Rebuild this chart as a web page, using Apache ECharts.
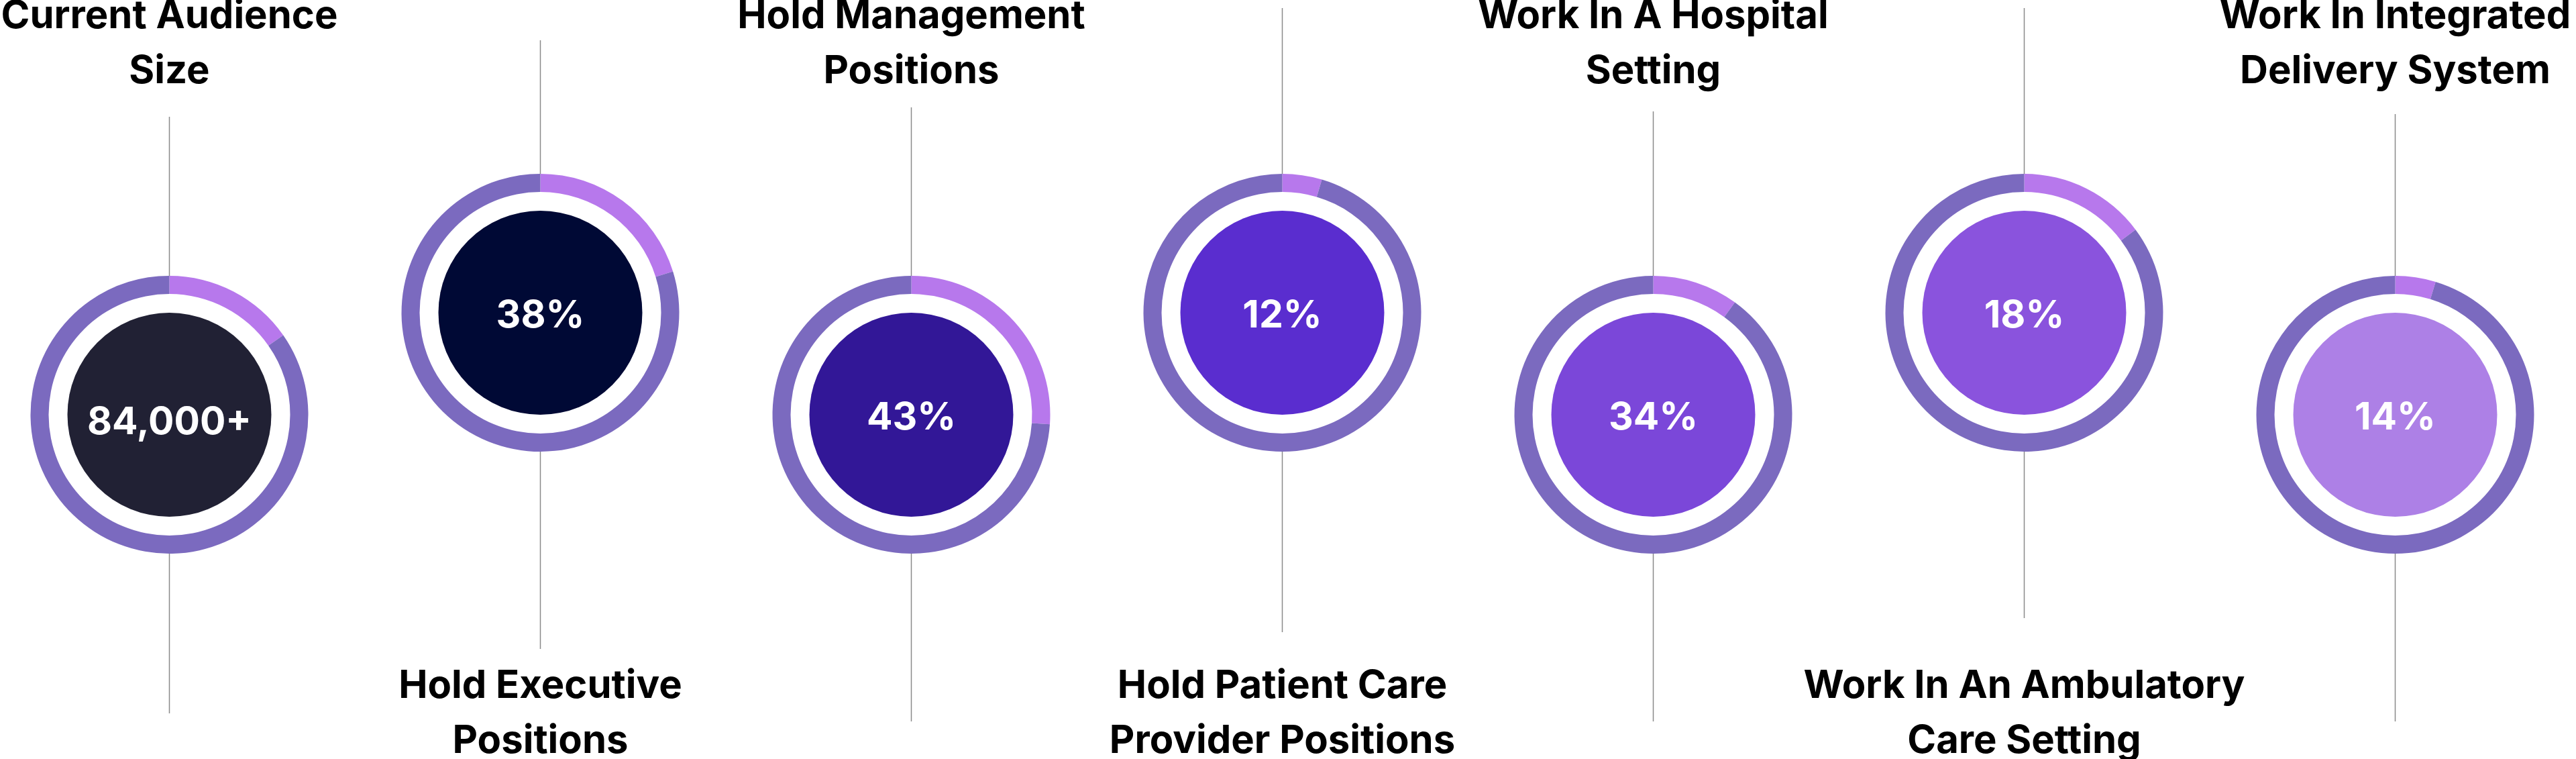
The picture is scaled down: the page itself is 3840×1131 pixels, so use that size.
<!DOCTYPE html>
<html>
<head>
<meta charset="utf-8">
<script src="https://cdn.jsdelivr.net/npm/echarts@6/dist/echarts.min.js"></script>
<style>
  html, body { margin: 0; padding: 0; background: #ffffff; }
  #chart { width: 3840px; height: 1131px; }
</style>
</head>
<body>
<div id="chart"></div>
<script>
// ---- data ----
const categories = [
  'Current Audience\nSize',
  'Hold Executive\nPositions',
  'Hold Management\nPositions',
  'Hold Patient Care\nProvider Positions',
  'Work In A Hospital\nSetting',
  'Work In An Ambulatory\nCare Setting',
  'Work In Integrated\nDelivery System'
];
const centerLabels = ['84,000+', '38%', '43%', '12%', '34%', '18%', '14%'];
// share of the outer ring drawn in the highlight colour
const arcShare = [15.3, 20.2, 26.1, 4.6, 10.0, 14.8, 4.7];

// ---- styles ----
const discColors = ['#212134', '#000935', '#321797', '#5A2DCF', '#7B47D9', '#8A53DD', '#AD80E6'];
const ringColor = '#7B6ABF';
const highlightColor = '#B778EC';
const lineColor = '#8a8a8a';
const fontFamily = 'Inter, "Noto Sans", sans-serif';

// ---- layout ----
const x0 = 252.5, step = 553;
const yLow = 618, yHigh = 466;
const rOuter = 207, rInner = 180, rDisc = 152;
const lineTop = [174, 60, 160, 12, 166, 12, 170];
const lineBottom = [1063, 967, 1075, 942, 1075, 921, 1075];
const labelTopY = 66, labelBottomY = 1064;

const chart = echarts.init(document.getElementById('chart'), null, { renderer: 'canvas' });

const series = [];
const graphics = [];
categories.forEach((cat, i) => {
  const cx = x0 + i * step;
  const cy = i % 2 === 0 ? yLow : yHigh;
  series.push({
    type: 'pie',
    silent: true,
    animation: false,
    center: [cx, cy],
    radius: [rInner, rOuter],
    startAngle: 90,
    clockwise: true,
    label: { show: false },
    labelLine: { show: false },
    emphasis: { disabled: true },
    itemStyle: { borderWidth: 0 },
    data: [
      { value: arcShare[i], name: 'hl', itemStyle: { color: highlightColor } },
      { value: 100 - arcShare[i], name: 'rest', itemStyle: { color: ringColor } }
    ]
  });
  series.push({
    type: 'pie',
    silent: true,
    animation: false,
    center: [cx, cy],
    radius: [0, rDisc],
    labelLine: { show: false },
    emphasis: { disabled: true },
    itemStyle: { borderWidth: 0, color: discColors[i] },
    label: {
      show: true,
      position: 'center',
      formatter: centerLabels[i],
      color: '#ffffff',
      fontFamily: fontFamily,
      fontWeight: 700,
      fontSize: 57,
      offset: i === 0 ? [0, 12] : [0, 5]
    },
    data: [{ value: 1, name: cat }]
  });
  // connector lines
  graphics.push({
    type: 'line', silent: true, z: -1,
    shape: { x1: cx, y1: lineTop[i], x2: cx, y2: cy - rOuter },
    style: { stroke: lineColor, lineWidth: 1.5 }
  });
  graphics.push({
    type: 'line', silent: true, z: -1,
    shape: { x1: cx, y1: cy + rOuter, x2: cx, y2: lineBottom[i] },
    style: { stroke: lineColor, lineWidth: 1.5 }
  });
  // category label
  graphics.push({
    type: 'text', silent: true,
    x: cx,
    y: i % 2 === 0 ? labelTopY : labelBottomY,
    style: {
      text: cat,
      fill: '#000000',
      font: '700 58px ' + fontFamily,
      align: 'center',
      verticalAlign: 'middle',
      lineHeight: 82
    }
  });
});

chart.setOption({
  backgroundColor: '#ffffff',
  animation: false,
  series: series,
  graphic: graphics
});
</script>
</body>
</html>
